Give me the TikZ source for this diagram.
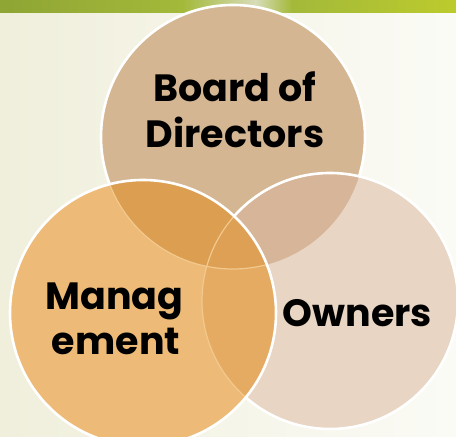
\documentclass[tikz,border=0pt]{standalone}
\usepackage{fontspec}
\setmainfont{Poppins}
\definecolor{bgL}{HTML}{F0EFDC}
\definecolor{bgR}{HTML}{FBFBF6}
\definecolor{gA}{HTML}{8FA534}
\definecolor{gB}{HTML}{A3B93A}
\definecolor{gC}{HTML}{D8DCB8}
\definecolor{gD}{HTML}{BCCB2C}
\definecolor{colT}{HTML}{D4B692}
\definecolor{colR}{HTML}{E8D5C3}
\definecolor{colL}{HTML}{EDBB77}
\definecolor{colTR}{HTML}{D7B598}
\definecolor{colTL}{HTML}{DC9E50}
\definecolor{colLR}{HTML}{E6AB63}
\definecolor{colTLR}{HTML}{DDA055}
\definecolor{faintline}{HTML}{F2C98E}
\pgfdeclarehorizontalshading{grass}{100bp}{color(0bp)=(gA); color(25bp)=(gA); color(45bp)=(gB); color(53bp)=(gC); color(57bp)=(gB); color(75bp)=(gD); color(100bp)=(gD)}
\tikzset{
  rim/.style={draw=white, line width=2.6pt},
  faint/.style={draw=faintline, line width=1.2pt},
  label/.style={font=\fontsize{38}{44}\selectfont\bfseries, text=black, inner sep=0pt, anchor=base}
}
\begin{document}
\begin{tikzpicture}[x=1pt,y=1pt]
\useasboundingbox (0,0) rectangle (456,437);
% background
\shade[left color=bgL, right color=bgR] (0,0) rectangle (456,424);
\shade[shading=grass] (0,424) rectangle (456,437);
% centres
\coordinate (T) at (233,300);
\coordinate (L) at (143,124);
\coordinate (R) at (330,136);
\def\rT{132}\def\rL{133}\def\rR{128}
% top circle
\fill[colT] (T) circle (\rT);
\draw[rim] (T) circle (\rT);
% right circle
\fill[colR] (R) circle (\rR);
\begin{scope}
  \clip (R) circle (\rR);
  \fill[colTR] (T) circle (\rT);
\end{scope}
\draw[rim] (R) circle (\rR);
% left circle
\fill[colL] (L) circle (\rL);
\begin{scope}
  \clip (L) circle (\rL);
  \fill[colTL] (T) circle (\rT);
  \fill[colLR] (R) circle (\rR);
  \clip (T) circle (\rT);
  \fill[colTLR] (R) circle (\rR);
\end{scope}
\begin{scope}
  \clip (L) circle (\rL);
  \draw[faint] (T) circle (\rT);
  \draw[faint] (R) circle (\rR);
\end{scope}
\draw[rim] (L) circle (\rL);
% labels
\node[label] (board1) at (235,335) {Board of};
\node[label] (board2) at (235,289) {Directors};
\node[label] (man1) at (114.5,127) {Manag};
\node[label] (man2) at (116,82) {ement};
\node[label] (own) at (357.5,110) {Owners};
\end{tikzpicture}
\end{document}
